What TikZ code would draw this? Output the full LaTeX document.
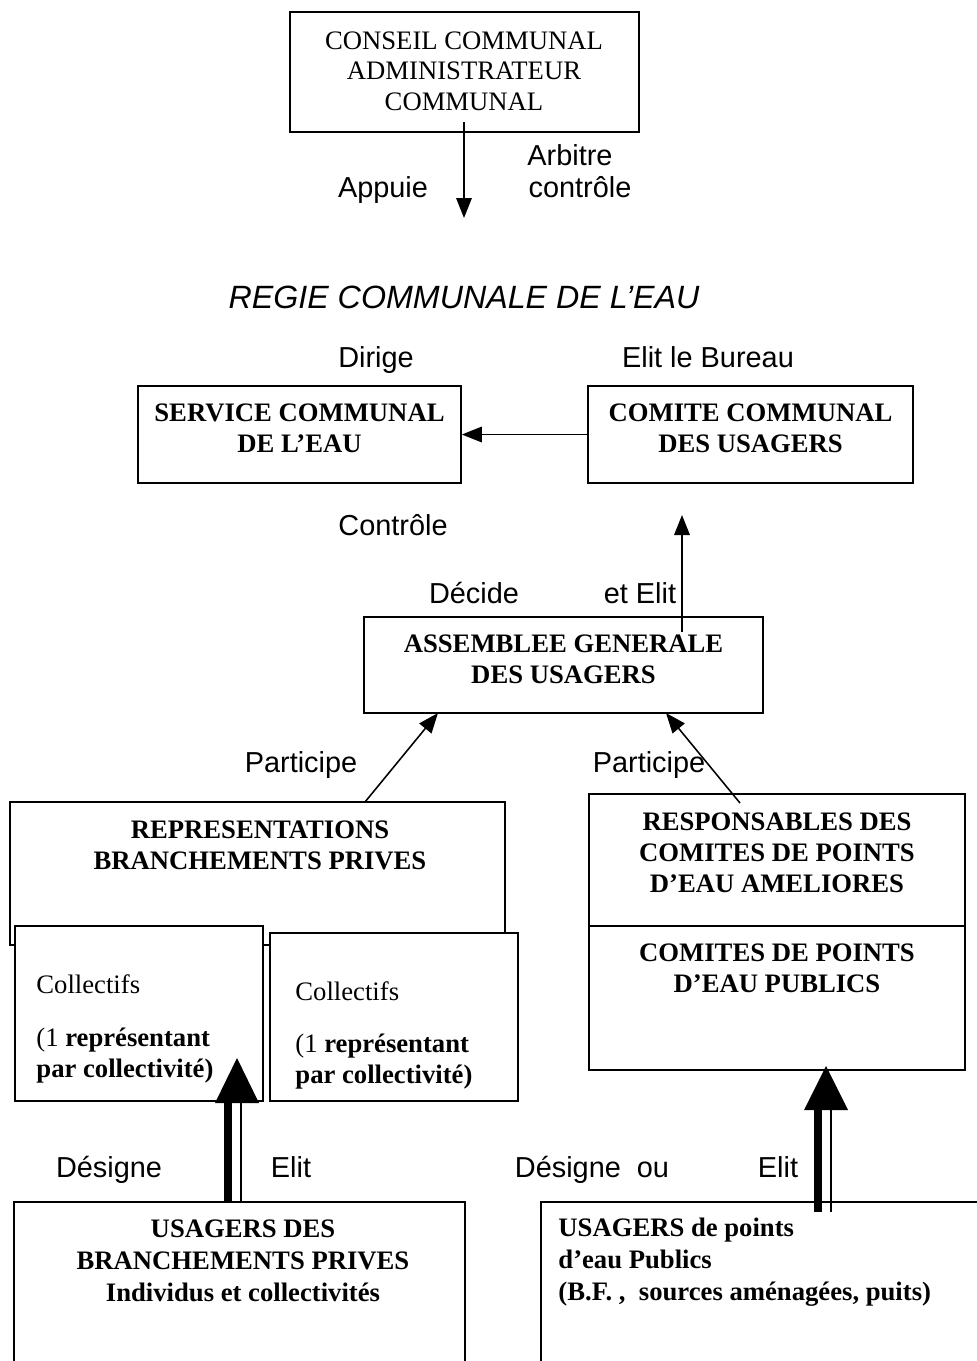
\documentclass[tikz,border=0pt]{standalone}
\usepackage{fontspec}
\setmainfont{Liberation Serif}
\newfontfamily\arialf{Liberation Sans}
\usetikzlibrary{arrows.meta,fit}
\begin{document}
\begin{tikzpicture}[x=0.45pt,y=-0.45pt,
 box/.style={draw,line width=0.75pt,inner sep=0pt,fill=white},
 btxt/.style={font=\fontsize{12}{14}\selectfont\bfseries,align=center,inner sep=0pt},
 ntxt/.style={font=\fontsize{12}{13.8}\selectfont,align=center,inner sep=0pt},
 ltxt/.style={font=\fontsize{12}{14}\selectfont,align=left,anchor=west,inner sep=0pt,text height=8.5pt,text depth=2.5pt},
 lbl/.style={font=\arialf\fontsize{13}{15}\selectfont,inner sep=0pt,text height=9.6pt,text depth=2.6pt,yshift=-1.3pt},
 arr/.style={line width=0.7pt,-{Triangle[length=9pt,width=7pt]}},
 thickshaft/.style={line width=3.8pt},
 thinshaft/.style={line width=1pt},
 bighead/.style={fill=black}
]
\useasboundingbox (0,0) rectangle (977,1361);

% top box
\node[box,fit={(290,12)(639,132)}] (conseil) {};
\node[ntxt] (conseilT) at (464,71) {CONSEIL COMMUNAL\\ADMINISTRATEUR\\COMMUNAL};
\coordinate (a1s) at (464,122);
\coordinate (a1e) at (464,218);
\draw[arr] (a1s) -- (a1e);
\node[lbl] (arbitre) at (570,155) {Arbitre};
\node[lbl] (controle1) at (580,187) {contrôle};
\node[lbl] (appuie) at (383,187) {Appuie};

\node[font=\arialf\itshape\fontsize{14.5}{16}\selectfont,inner sep=0pt] (regie) at (464,297) {REGIE COMMUNALE DE L’EAU};

\node[lbl] (dirige) at (376,357) {Dirige};
\node[lbl] (elitbur) at (708,357) {Elit le Bureau};

\node[box,fit={(138,386)(461,483)}] (svc) {};
\node[btxt] (svcT) at (299.5,428.5) {SERVICE COMMUNAL\\DE L’EAU};
\node[box,fit={(588,386)(913,483)}] (cmt) {};
\node[btxt] (cmtT) at (750.5,428.5) {COMITE COMMUNAL\\DES USAGERS};
\draw[arr] (cmt.west) -- (svc.east);

\node[lbl] (controle2) at (393,525) {Contrôle};
\node[lbl] (decide) at (474,593) {Décide};
\node[lbl] (etelit) at (640,593) {et Elit};

\node[box,fit={(364,617)(763,713)}] (ag) {};
\node[btxt] (agT) at (563.5,659) {ASSEMBLEE GENERALE\\DES USAGERS};
\coordinate (a2s) at (682,632);
\coordinate (a2e) at (682,515);
\draw[arr] (a2s) -- (a2e);

\node[lbl] (part1) at (301,762) {Participe};
\node[lbl] (part2) at (649,762) {Participe};

% representations
\node[box,fit={(10,802)(505,945)}] (rep) {};
\node[btxt] (repT) at (260,845) {REPRESENTATIONS\\BRANCHEMENTS PRIVES};
\coordinate (p1s) at (365,802);
\coordinate (p1e) at (438,713);
\draw[arr] (p1s) -- (p1e);

\node[box,fit={(15,926)(263,1101)}] (col1) {};
\node[box,fit={(270,933)(518,1101)}] (col2) {};
\node[ltxt] (c1a) at (36,987) {Collectifs};
\node[ltxt] (c1b) at (36,1040) {(1 \textbf{représentant}};
\node[ltxt] (c1c) at (36,1071) {\textbf{par collectivité)}};
\node[ltxt] (c2a) at (295,994) {Collectifs};
\node[ltxt] (c2b) at (295,1046) {(1 \textbf{représentant}};
\node[ltxt] (c2c) at (295,1077) {\textbf{par collectivité)}};

% right column
\node[box,fit={(589,794)(965,926)}] (resp) {};
\node[btxt] (respT) at (777,853) {RESPONSABLES DES\\COMITES DE POINTS\\D’EAU AMELIORES};
\node[box,fit={(589,926)(965,1070)}] (cpp) {};
\node[btxt] (cppT) at (777,968) {COMITES DE POINTS\\D’EAU PUBLICS};
\coordinate (p2s) at (740,803);
\coordinate (p2e) at (666,713);
\draw[arr] (p2s) -- (p2e);

% labels bottom
\node[lbl] (des1) at (109,1167) {Désigne};
\node[lbl] (elit1) at (291,1167) {Elit};
\node[lbl] (des2) at (592,1167) {Désigne\ \ ou};
\node[lbl] (elit2) at (778,1167) {Elit};

% bottom boxes
\node[box,fit={(14,1202)(465,1400)}] (usg1) {};
\node[btxt,font=\fontsize{12}{14.4}\selectfont\bfseries] (usg1T) at (243,1261) {USAGERS DES\\BRANCHEMENTS PRIVES\\Individus et collectivités};
\node[box,fit={(541,1202)(1000,1400)}] (usg2) {};
\node[btxt,font=\fontsize{12}{14.4}\selectfont\bfseries,align=left,anchor=west] (usg2T) at (558,1262) {USAGERS de points\\d’eau Publics\\(B.F. ,\ \ sources aménagées, puits)};

% big double arrows
\coordinate (b1s) at (236,1202);
\coordinate (b1e) at (236,1100);
\draw[thickshaft] ([xshift=-3.5pt]b1s) -- ([xshift=-3.5pt]b1e);
\draw[thinshaft] ([xshift=2.2pt]b1s) -- ([xshift=2.2pt]b1e);
\fill[bighead] (237,1058) -- (215,1103) -- (259,1103) -- cycle;

\coordinate (b2s) at (826,1212);
\coordinate (b2e) at (826,1108);
\draw[thickshaft] ([xshift=-3.5pt]b2s) -- ([xshift=-3.5pt]b2e);
\draw[thinshaft] ([xshift=2.2pt]b2s) -- ([xshift=2.2pt]b2e);
\fill[bighead] (826,1066) -- (804,1110) -- (848,1110) -- cycle;
\end{tikzpicture}
\end{document}
